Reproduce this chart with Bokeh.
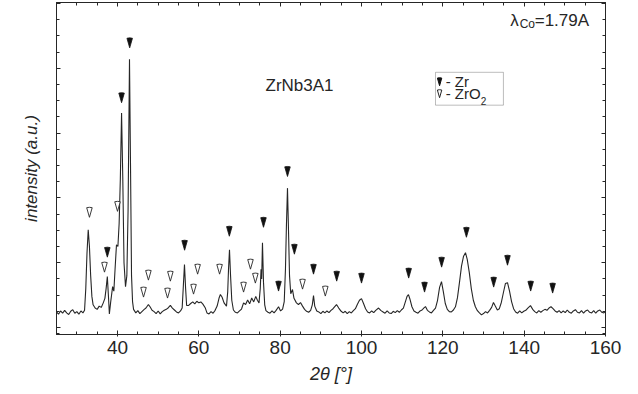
import math
from bokeh.plotting import figure
from bokeh.models import Range1d, LinearAxis, FixedTicker, Label, BoxAnnotation
from bokeh.embed import file_html
from bokeh.resources import INLINE

# ---- diffraction pattern (2theta in degrees, intensity in a.u.) ----
two_theta = [
    25.0, 25.5, 26.0, 26.5, 27.0, 27.5, 28.0, 28.5, 29.0, 29.5, 30.0, 30.5, 31.0, 31.5, 31.9,
    32.2, 32.5, 32.8, 33.1, 33.4, 33.7, 34.0, 34.5, 35.0, 35.5, 36.0, 36.5, 36.9, 37.2, 37.5,
    37.8, 38.0, 38.3, 38.8, 39.1, 39.4, 39.75, 40.1, 40.4, 40.7, 41.0, 41.3, 41.6, 41.97, 42.3,
    42.6, 42.95, 43.2, 43.45, 43.7, 43.95, 44.5, 45.0, 45.5, 46.0, 46.5, 47.0, 47.6, 48.0, 48.5,
    49.0, 49.5, 50.0, 50.5, 51.0, 51.5, 52.0, 52.5, 53.0, 53.5, 54.0, 54.5, 55.0, 55.5, 55.9,
    56.2, 56.47, 56.75, 57.0, 57.5, 58.0, 58.5, 59.0, 59.5, 60.0, 60.5, 61.0, 61.6, 62.0, 62.5,
    63.0, 63.5, 64.0, 64.5, 65.0, 65.3, 65.7, 66.2, 66.8, 67.1, 67.3, 67.54, 67.8, 68.1, 68.5,
    69.0, 69.5, 70.0, 70.5, 71.0, 71.5, 72.0, 72.5, 73.0, 73.5, 74.0, 74.4, 74.8, 75.1, 75.3,
    75.45, 75.65, 75.9, 76.2, 76.5, 77.0, 77.5, 78.0, 78.5, 79.0, 79.6, 80.1, 80.6, 81.0, 81.3,
    81.55, 81.8, 82.05, 82.3, 82.6, 83.03, 83.4, 84.0, 84.5, 85.0, 85.5, 86.0, 86.5, 87.0, 87.5,
    87.9, 88.2, 88.5, 89.0, 89.5, 90.0, 90.5, 91.0, 91.5, 92.0, 92.5, 93.0, 93.85, 94.4, 95.0,
    95.5, 96.0, 96.5, 97.0, 97.5, 98.0, 98.5, 99.0, 99.5, 100.0, 100.5, 101.0, 101.5, 102.0, 102.5,
    103.0, 103.5, 104.2, 104.8, 105.3, 105.8, 106.3, 106.8, 107.3, 107.8, 108.3, 108.8, 109.3, 109.8, 110.3,
    110.8, 111.2, 111.55, 111.9, 112.4, 112.9, 113.4, 113.9, 114.4, 114.9, 115.3, 115.73, 116.2, 116.7, 117.2,
    117.7, 118.2, 118.7, 119.2, 119.67, 120.1, 120.6, 121.1, 121.6, 122.1, 122.6, 123.1, 123.6, 124.1, 124.6,
    125.1, 125.57, 126.0, 126.5, 127.0, 127.5, 128.0, 128.5, 129.0, 129.5, 130.0, 130.5, 131.0, 131.5, 132.0,
    132.45, 132.9, 133.4, 133.9, 134.4, 134.9, 135.4, 135.9, 136.4, 136.9, 137.4, 137.9, 138.4, 138.9, 139.4,
    139.9, 140.4, 140.9, 141.55, 142.1, 142.6, 143.1, 143.6, 144.1, 144.6, 145.1, 145.6, 146.1, 146.6, 147.1,
    147.6, 148.1, 148.6, 149.1, 149.6, 150.1, 150.6, 151.1, 151.6, 152.1, 152.6, 153.1, 153.6, 154.1, 154.6,
    155.1, 155.6, 156.1, 156.6, 157.1, 157.6, 158.1, 158.6, 159.1, 159.6, 160.0,
]
intensity = [
    240, 205, 255, 220, 265, 225, 200, 250, 275, 220, 245, 205, 255, 225, 265,
    600, 1150, 1508, 1250, 800, 480, 350, 300, 280, 330, 310, 380, 450, 600, 785,
    450, 210, 380, 630, 560, 900, 1277, 1250, 1600, 2300, 3308, 2300, 1000, 630, 800,
    1800, 4138, 2500, 800, 400, 280, 225, 260, 215, 245, 275, 300, 354, 320, 265,
    245, 215, 255, 210, 245, 265, 280, 305, 340, 300, 270, 240, 225, 255, 300,
    650, 970, 600, 340, 340, 370, 395, 365, 405, 380, 395, 360, 300, 225, 210,
    245, 220, 265, 330, 460, 508, 470, 380, 330, 550, 900, 1200, 800, 420, 270,
    235, 225, 255, 285, 380, 355, 425, 365, 455, 395, 480, 420, 380, 600, 900,
    750, 1308, 700, 350, 260, 235, 220, 255, 225, 265, 320, 255, 285, 400, 900,
    1600, 2150, 1500, 800, 520, 585, 450, 380, 355, 385, 330, 280, 250, 235, 265,
    350, 492, 330, 255, 240, 215, 250, 225, 255, 230, 265, 290, 354, 300, 250,
    225, 250, 215, 245, 225, 260, 290, 360, 420, 446, 370, 290, 240, 225, 255,
    230, 265, 300, 260, 240, 220, 255, 225, 215, 250, 230, 260, 235, 270, 300,
    400, 480, 508, 440, 320, 255, 235, 220, 255, 270, 300, 323, 265, 240, 225,
    265, 300, 420, 620, 708, 560, 370, 280, 245, 240, 270, 320, 460, 700, 950,
    1100, 1154, 1050, 850, 600, 420, 320, 260, 225, 195, 215, 245, 225, 265, 310,
    385, 330, 270, 290, 390, 540, 680, 692, 560, 400, 290, 240, 220, 255, 225,
    250, 265, 300, 338, 280, 245, 225, 260, 235, 260, 280, 265, 300, 320, 290,
    255, 235, 260, 225, 255, 230, 270, 235, 220, 255, 275, 235, 225, 260, 220,
    255, 270, 235, 225, 260, 220, 255, 270, 235, 225, 250,
]

# ---- phase markers (tip position of each triangle) ----
zr_theta = [37.5, 41.0, 43.0, 56.5, 67.5, 75.9, 79.6, 81.8, 83.5, 88.2,
            93.9, 100.0, 111.6, 115.5, 119.7, 125.8, 132.5, 135.9, 141.6, 147.0]
zr_level = [1085, 3468, 4314, 1192, 1408, 1546, 562, 2330, 1131, 823,
            715, 685, 762, 546, 931, 1392, 623, 961, 562, 531]
zro2_theta = [33.1, 36.8, 40.0, 47.6, 46.4, 53.0, 52.3, 59.7, 58.7, 65.1,
              71.0, 72.7, 73.9, 85.5, 91.1]
zro2_level = [1700, 854, 1792, 731, 469, 715, 454, 823, 515, 823,
              546, 900, 685, 592, 485]

x_major = [40, 60, 80, 100, 120, 140, 160]
x_minor = [25, 30, 35, 45, 50, 55, 65, 70, 75, 85, 90, 95, 105, 110, 115,
           125, 130, 135, 145, 150, 155]
y_major = [0, 1000, 2000, 3000, 4000, 5000]
y_minor = [-100, 250, 500, 750, 1250, 1500, 1750, 2250, 2500, 2750, 3250, 3500,
           3750, 4250, 4500, 4750]

INK = "#262626"
FONT = "Liberation Sans"

p = figure(width=630, height=386, output_backend="svg", toolbar_location=None,
           x_range=Range1d(25, 160), y_range=Range1d(-108, 5014),
           x_axis_location=None, y_axis_location=None,
           min_border_left=56, min_border_right=25, min_border_top=2,
           min_border_bottom=51)
p.background_fill_color = "white"
p.border_fill_color = "white"
p.outline_line_color = INK
p.outline_line_width = 1
try:
    p.xgrid.visible = False
    p.ygrid.visible = False
except Exception:
    pass


def style_axis(ax, tick_in=4, minor_in=3):
    ax.axis_line_color = INK
    ax.major_tick_line_color = INK
    ax.minor_tick_line_color = INK
    ax.major_tick_in = tick_in
    ax.minor_tick_in = minor_in
    ax.minor_tick_out = 0


def hide_labels(ax):
    ax.major_tick_out = 0
    ax.major_label_standoff = 0
    ax.major_label_text_color = None
    ax.major_label_text_font_size = "1px"


xb = LinearAxis(ticker=FixedTicker(ticks=x_major, minor_ticks=x_minor),
                axis_label="2θ [°]")
style_axis(xb)
xb.major_tick_out = 2
xb.major_label_standoff = 4
xb.major_label_text_font = FONT
xb.major_label_text_font_size = "19px"
xb.major_label_text_color = INK
xb.axis_label_text_font = FONT
xb.axis_label_text_font_style = "italic"
xb.axis_label_text_font_size = "18px"
xb.axis_label_text_color = INK
xb.axis_label_standoff = 7
p.add_layout(xb, "below")

xt = LinearAxis(ticker=FixedTicker(ticks=x_major, minor_ticks=x_minor))
style_axis(xt)
hide_labels(xt)
p.add_layout(xt, "above")

yl = LinearAxis(ticker=FixedTicker(ticks=y_major, minor_ticks=y_minor),
                axis_label="intensity (a.u.)")
style_axis(yl)
hide_labels(yl)
yl.axis_label_text_font = FONT
yl.axis_label_text_font_style = "italic"
yl.axis_label_text_font_size = "17px"
yl.axis_label_text_color = INK
yl.axis_label_standoff = 16
p.add_layout(yl, "left")

yr = LinearAxis(ticker=FixedTicker(ticks=y_major, minor_ticks=y_minor))
style_axis(yr)
hide_labels(yr)
p.add_layout(yr, "right")

# pattern
p.line(two_theta, intensity, line_color=INK, line_width=1.1)

# markers: narrow downward triangles (tip at the point)
a0, a1 = math.radians(74), math.radians(106)
p.wedge(x=zr_theta, y=zr_level, radius=10, radius_units="screen",
        start_angle=a0, end_angle=a1, fill_color="#111111", line_color="#111111",
        line_width=0.8)
p.wedge(x=zro2_theta, y=zro2_level, radius=10, radius_units="screen",
        start_angle=a0, end_angle=a1, fill_color="white", line_color=INK,
        line_width=0.9)

# texts
p.add_layout(Label(x=76.4, y=3737, text="ZrNb3A1", text_font=FONT,
                   text_font_size="17px", text_color=INK,
                   text_baseline="alphabetic"))
p.add_layout(Label(x=136.6, y=4737, text="λ", text_font=FONT,
                   text_font_size="17px", text_color=INK, text_baseline="alphabetic"))
p.add_layout(Label(x=138.9, y=4676, text="Co", text_font=FONT,
                   text_font_size="12px", text_color=INK, text_baseline="alphabetic"))
p.add_layout(Label(x=142.6, y=4737, text="=1.79A", text_font=FONT,
                   text_font_size="17px", text_color=INK, text_baseline="alphabetic"))

# legend box
p.add_layout(BoxAnnotation(left=118.2, right=134.9, bottom=3430, top=3937,
                           fill_color=None, line_color=INK, line_width=1))
p.wedge(x=[119.2], y=[3730], radius=8, radius_units="screen",
        start_angle=a0, end_angle=a1, fill_color="#111111", line_color="#111111")
p.wedge(x=[119.2], y=[3545], radius=8, radius_units="screen",
        start_angle=a0, end_angle=a1, fill_color="white", line_color=INK)
p.add_layout(Label(x=120.7, y=3799, text="- Zr", text_font=FONT,
                   text_font_size="15px", text_color=INK, text_baseline="middle"))
p.add_layout(Label(x=120.7, y=3614, text="- ZrO", text_font=FONT,
                   text_font_size="15px", text_color=INK, text_baseline="middle"))
p.add_layout(Label(x=129.3, y=3491, text="2", text_font=FONT,
                   text_font_size="10px", text_color=INK, text_baseline="alphabetic"))

open("out.html", "w").write(file_html(p, INLINE))
